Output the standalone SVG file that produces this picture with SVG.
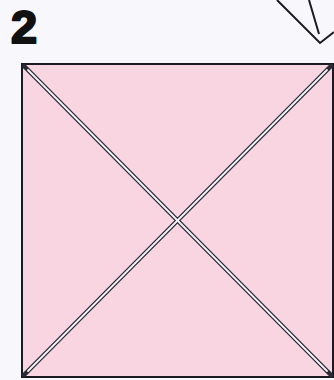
<svg xmlns="http://www.w3.org/2000/svg" width="334" height="380" viewBox="0 0 334 380">
<style>
.edge{fill:none;stroke:#1a1a22;stroke-width:2}
.diagO{stroke:#2a2a35;stroke-width:4.5;stroke-linecap:round}
.diagI{stroke:#f4f6fb;stroke-width:1.8;stroke-linecap:round}
.num{font-family:"Liberation Sans",Arial,sans-serif;font-weight:bold;font-size:47px;fill:#111;stroke:#111;stroke-width:2.2;stroke-linejoin:round}
</style>
<rect width="334" height="380" fill="#f8f8fc"/>
<text class="num" x="11" y="43">2</text>
<g id="prev-model">
<polyline class="edge" points="277,0 320,43 334,32"/>
<line class="edge" x1="309" y1="0" x2="319" y2="34"/>
</g>
<g id="square">
<rect x="22" y="64" width="311" height="313" fill="#f9d5e2" stroke="#1a1a22" stroke-width="2"/>
</g>
<g id="connectors">
<line class="diagO" x1="24" y1="66" x2="331" y2="375"/>
<line class="diagO" x1="331" y1="66" x2="24" y2="375"/>
<line class="diagI" x1="28" y1="70" x2="327" y2="371"/>
<line class="diagI" x1="327" y1="70" x2="28" y2="371"/>
</g>
</svg>
